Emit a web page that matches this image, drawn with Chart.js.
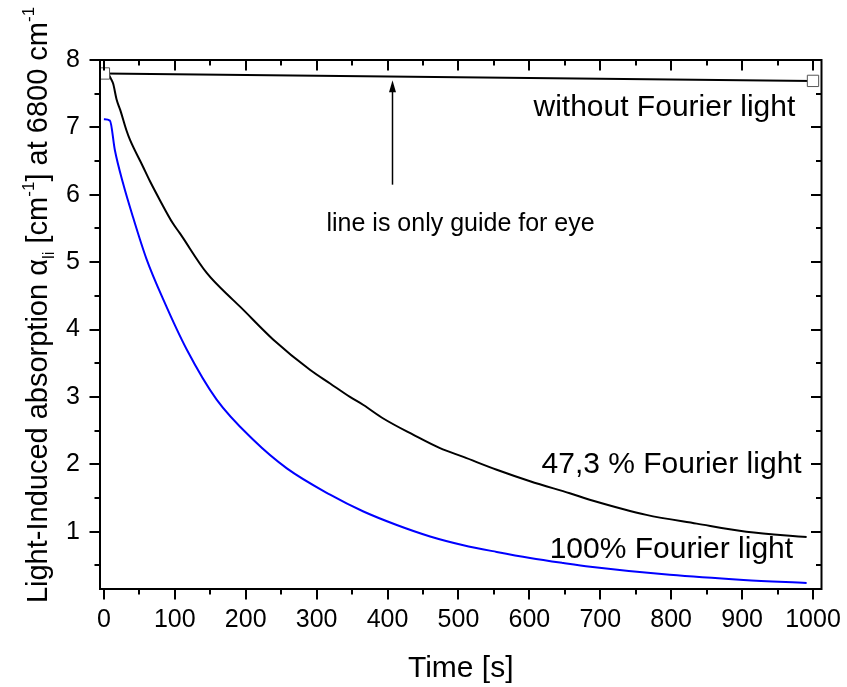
<!DOCTYPE html>
<html>
<head>
<meta charset="utf-8">
<script src="https://cdn.jsdelivr.net/npm/chart.js@4/dist/chart.umd.min.js"></script>
<style>
  html, body { margin: 0; padding: 0; background: #fff; }
  #wrap { width: 847px; height: 687px; position: relative; }
</style>
</head>
<body>
<div id="wrap"><canvas id="c" width="847" height="687"></canvas></div>
<script>
// ---- data ----
const withoutTime = [0, 1000];
const withoutAbs = [7.80, 7.69];

const time47 = [6, 10, 13, 18, 23, 32, 37, 55, 65, 79, 97, 107, 145, 182, 192, 239, 291, 319, 347, 366, 394, 436, 474, 507, 554, 601, 657, 690, 765, 836, 906, 991];
const abs47  = [7.80, 7.72, 7.65, 7.41, 7.26, 6.95, 6.81, 6.42, 6.20, 5.92, 5.58, 5.43, 4.84, 4.44, 4.34, 3.85, 3.40, 3.20, 3.00, 2.88, 2.68, 2.44, 2.24, 2.11, 1.92, 1.75, 1.57, 1.46, 1.25, 1.12, 1.00, 0.92];

const time100 = [0, 8.5, 15.5, 27, 41, 60, 84, 117, 159, 211, 258, 319, 366, 413, 460, 507, 554, 601, 648, 686, 798, 902, 991];
const abs100  = [7.12, 7.10, 6.66, 6.17, 5.67, 5.05, 4.44, 3.70, 2.96, 2.36, 1.94, 1.55, 1.30, 1.10, 0.93, 0.80, 0.70, 0.61, 0.535, 0.48, 0.36, 0.285, 0.24];

const xTickValues = [0, 100, 200, 300, 400, 500, 600, 700, 800, 900, 1000];
const xMinorValues = [50, 150, 250, 350, 450, 550, 650, 750, 850, 950];
const yTickValues = [1, 2, 3, 4, 5, 6, 7, 8];
const yMinorValues = [0.5, 1.5, 2.5, 3.5, 4.5, 5.5, 6.5, 7.5];

const labelWithout = 'without Fourier light';
const label47 = '47,3 % Fourier light';
const label100 = '100% Fourier light';
const guideNote = 'line is only guide for eye';
const xTitle = 'Time [s]';

const FONT = '"Liberation Sans", Arial, Helvetica, sans-serif';

function pts(xs, ys) { return xs.map((x, i) => ({ x: x, y: ys[i] })); }

const framePlugin = {
  id: 'frame',
  afterDraw(chart) {
    const ctx = chart.ctx;
    const a = chart.chartArea;
    const xs = chart.scales.x, ys = chart.scales.y;
    ctx.save();
    ctx.strokeStyle = '#000';
    ctx.lineWidth = 2;
    ctx.strokeRect(a.left, a.top, a.right - a.left, a.bottom - a.top);
    ctx.beginPath();
    const major = 10.5, minor = 5.5;
    xTickValues.forEach(v => {
      const p = Math.round(xs.getPixelForValue(v));
      ctx.moveTo(p, a.bottom); ctx.lineTo(p, a.bottom + major);
      ctx.moveTo(p, a.top); ctx.lineTo(p, a.top + major);
    });
    xMinorValues.forEach(v => {
      const p = Math.round(xs.getPixelForValue(v));
      ctx.moveTo(p, a.bottom); ctx.lineTo(p, a.bottom + minor);
      ctx.moveTo(p, a.top); ctx.lineTo(p, a.top + minor);
    });
    yTickValues.forEach(v => {
      const p = Math.round(ys.getPixelForValue(v));
      ctx.moveTo(a.left, p); ctx.lineTo(a.left - major, p);
      ctx.moveTo(a.right, p); ctx.lineTo(a.right - major, p);
    });
    yMinorValues.forEach(v => {
      const p = Math.round(ys.getPixelForValue(v));
      ctx.moveTo(a.left, p); ctx.lineTo(a.left - minor, p);
      ctx.moveTo(a.right, p); ctx.lineTo(a.right - minor, p);
    });
    ctx.stroke();

    // annotations
    ctx.fillStyle = '#000';
    ctx.textBaseline = 'alphabetic';
    ctx.font = '30px ' + FONT;
    ctx.textAlign = 'right';
    ctx.fillText(labelWithout, xs.getPixelForValue(975), ys.getPixelForValue(7.17));
    ctx.fillText(label47, xs.getPixelForValue(984), ys.getPixelForValue(1.87));
    ctx.fillText(label100, xs.getPixelForValue(972), ys.getPixelForValue(0.61));
    ctx.font = '25px ' + FONT;
    ctx.textAlign = 'center';
    ctx.fillText(guideNote, xs.getPixelForValue(503), ys.getPixelForValue(5.46));

    // arrow
    const ax = Math.round(xs.getPixelForValue(406)) + 0.5;
    const ay0 = ys.getPixelForValue(6.15), ay1 = ys.getPixelForValue(7.70);
    ctx.lineWidth = 1.5;
    ctx.beginPath();
    ctx.moveTo(ax, ay0); ctx.lineTo(ax, ay1 + 8);
    ctx.stroke();
    ctx.beginPath();
    ctx.moveTo(ax, ay1); ctx.lineTo(ax - 3.5, ay1 + 12); ctx.lineTo(ax + 3.5, ay1 + 12); ctx.closePath();
    ctx.fill();

    // x title
    ctx.font = '30px ' + FONT;
    ctx.textAlign = 'center';
    ctx.fillText(xTitle, (a.left + a.right) / 2, 677);

    // y title (rotated, with sub/superscripts)
    const parts = [
      { t: 'Light-Induced absorption \u03B1', s: 29, dy: 0 },
      { t: 'li', s: 17, dy: 7 },
      { t: ' [cm', s: 29, dy: 0 },
      { t: '-1', s: 17, dy: -13 },
      { t: '] at 6800 cm', s: 29, dy: 0 },
      { t: '-1', s: 17, dy: -13 }
    ];
    let total = 0;
    parts.forEach(p => { ctx.font = p.s + 'px ' + FONT; p.w = ctx.measureText(p.t).width; total += p.w; });
    ctx.translate(47, 305);
    ctx.rotate(-Math.PI / 2);
    ctx.textAlign = 'left';
    let cx = -total / 2;
    parts.forEach(p => {
      ctx.font = p.s + 'px ' + FONT;
      ctx.fillText(p.t, cx, p.dy);
      cx += p.w;
    });
    ctx.restore();
  }
};

new Chart(document.getElementById('c'), {
  type: 'line',
  data: {
    datasets: [
      {
        label: labelWithout,
        data: pts(withoutTime, withoutAbs),
        borderColor: '#000', borderWidth: 2,
        pointStyle: 'rect', pointRadius: 8,
        pointBorderColor: '#555', pointBackgroundColor: '#fff', pointBorderWidth: 1,
        tension: 0
      },
      {
        label: label47,
        data: pts(time47, abs47),
        borderColor: '#000', borderWidth: 2,
        pointRadius: 0, cubicInterpolationMode: 'monotone'
      },
      {
        label: label100,
        data: pts(time100, abs100),
        borderColor: '#0000ff', borderWidth: 2,
        pointRadius: 0, cubicInterpolationMode: 'monotone'
      }
    ]
  },
  options: {
    responsive: false,
    animation: false,
    devicePixelRatio: 1,
    layout: { padding: { left: 0, top: 60, right: 25.5, bottom: 0 } },
    plugins: { legend: { display: false }, tooltip: { enabled: false }, title: { display: false } },
    scales: {
      x: {
        type: 'linear', min: -5.5, max: 1012,
        afterBuildTicks: s => { s.ticks = xTickValues.map(v => ({ value: v })); },
        afterFit: s => { s.height = 98; s.paddingLeft = 0; s.paddingRight = 0; },
        grid: { display: false, drawTicks: false },
        border: { display: false },
        ticks: { color: '#000', font: { size: 25, family: FONT }, padding: 16, maxRotation: 0, autoSkip: false,
                 callback: v => String(v) }
      },
      y: {
        type: 'linear', min: 0.15, max: 8,
        afterBuildTicks: s => { s.ticks = yTickValues.map(v => ({ value: v })); },
        afterFit: s => { s.width = 100; s.paddingTop = 0; s.paddingBottom = 0; },
        grid: { display: false, drawTicks: false },
        border: { display: false },
        ticks: { color: '#000', font: { size: 25, family: FONT }, padding: 20, callback: v => String(v) }
      }
    }
  },
  plugins: [framePlugin]
});
</script>
</body>
</html>
